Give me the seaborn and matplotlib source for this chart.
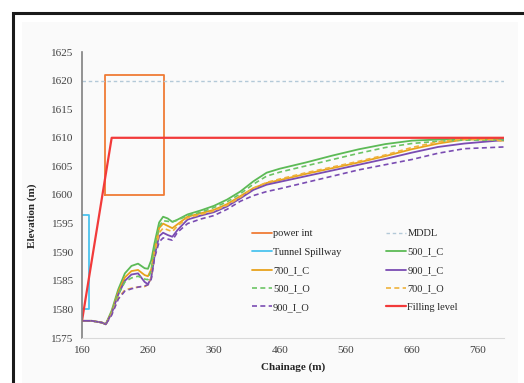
import matplotlib
matplotlib.use("Agg")
import matplotlib.pyplot as plt
from matplotlib.patches import Rectangle
import seaborn as sns

# chainage grid shared by the water-surface profiles
chainage = [160, 175, 190, 196, 205, 215, 225, 235, 245, 255, 260, 265, 270, 277,
            283, 290, 297, 305, 320, 340, 360, 380, 400, 420, 440, 460, 500, 540,
            580, 620, 660, 700, 740, 780, 800]

elev_500_i_c = [1578.0, 1578.0, 1577.7, 1577.4, 1579.8, 1583.5, 1586.3, 1587.6, 1588.0,
                1587.2, 1587.1, 1588.6, 1591.6, 1595.2, 1596.2, 1595.9, 1595.3, 1595.7,
                1596.6, 1597.3, 1598.1, 1599.2, 1600.6, 1602.4, 1603.9, 1604.6, 1605.7,
                1606.9, 1608.0, 1608.9, 1609.5, 1609.7, 1609.8, 1609.8, 1609.8]
elev_700_i_c = [1578.0, 1578.0, 1577.7, 1577.4, 1579.5, 1583.0, 1585.6, 1586.7, 1586.9,
                1586.0, 1585.8, 1587.0, 1590.3, 1594.2, 1595.0, 1594.6, 1594.2, 1594.9,
                1596.2, 1596.8, 1597.4, 1598.4, 1599.8, 1601.2, 1602.1, 1602.6, 1603.7,
                1604.7, 1605.7, 1606.8, 1608.0, 1609.0, 1609.7, 1609.7, 1609.5]
elev_900_i_c = [1578.0, 1578.0, 1577.7, 1577.4, 1579.3, 1582.6, 1585.0, 1586.1, 1586.3,
                1584.8, 1584.4, 1585.5, 1589.3, 1592.8, 1593.4, 1593.0, 1592.7, 1593.9,
                1595.7, 1596.4, 1597.0, 1598.0, 1599.4, 1600.9, 1601.8, 1602.3, 1603.3,
                1604.3, 1605.3, 1606.3, 1607.4, 1608.4, 1609.0, 1609.4, 1609.6]
elev_500_i_o = [1578.0, 1578.0, 1577.7, 1577.4, 1579.4, 1582.6, 1584.8, 1585.5, 1585.8,
                1585.3, 1585.2, 1586.8, 1590.6, 1594.5, 1595.5, 1595.4, 1595.3, 1595.6,
                1596.4, 1597.0, 1597.8, 1598.8, 1600.2, 1601.9, 1603.3, 1604.0, 1605.1,
                1606.2, 1607.3, 1608.3, 1609.0, 1609.4, 1609.6, 1609.6, 1609.6]
elev_700_i_o = [1578.0, 1578.0, 1577.7, 1577.4, 1579.2, 1582.0, 1583.4, 1583.7, 1583.9,
                1584.0, 1584.3, 1585.5, 1589.6, 1593.4, 1594.2, 1593.9, 1593.6, 1594.6,
                1596.0, 1596.6, 1597.2, 1598.2, 1599.6, 1601.2, 1602.2, 1602.8, 1603.9,
                1604.9, 1605.9, 1607.0, 1608.3, 1609.3, 1609.8, 1609.7, 1609.4]
elev_900_i_o = [1578.0, 1578.0, 1577.7, 1577.4, 1579.0, 1581.8, 1583.2, 1583.6, 1583.9,
                1584.1, 1584.3, 1585.3, 1589.0, 1591.8, 1592.5, 1592.3, 1592.1, 1593.5,
                1595.0, 1595.8, 1596.4, 1597.5, 1598.9, 1599.9, 1600.6, 1601.1, 1602.2,
                1603.3, 1604.4, 1605.3, 1606.2, 1607.3, 1608.1, 1608.3, 1608.4]

# structures and reference levels
power_int_x = [195, 195, 284, 284, 195]
power_int_y = [1600, 1621, 1621, 1600, 1600]
spillway_x = [160, 170, 170, 160]
spillway_y = [1596.5, 1596.5, 1580, 1580]
mddl_x = [160, 800]
mddl_y = [1620, 1620]
filling_x = [160, 205, 800]
filling_y = [1578, 1610, 1610]

xticks = [160, 260, 360, 460, 560, 660, 760]
yticks = [1575, 1580, 1585, 1590, 1595, 1600, 1605, 1610, 1615, 1620, 1625]

sns.set_style("white")
plt.rcParams["font.family"] = ["Liberation Serif", "DejaVu Serif"]

fig = plt.figure(figsize=(5.24, 3.83), dpi=100)
W, H = 524, 383
# panel background and outer frame
fig.patches.append(Rectangle((22 / W, 0), (518 - 22) / W, 1 - 22 / H,
                             transform=fig.transFigure, facecolor="#fafafa",
                             edgecolor="none", zorder=-5))
fig.patches.append(Rectangle((13 / W, -0.1), 1.2, 1.1 - 13 / H,
                             transform=fig.transFigure, facecolor="none",
                             edgecolor="#1a1a1a", linewidth=2.2, zorder=-4))

ax = fig.add_axes([82 / W, 1 - 338 / H, (504 - 82) / W, (338 - 52) / H])
ax.set_facecolor("none")
ax.set_zorder(2)

kw = dict(ax=ax, estimator=None, sort=False)
sns.lineplot(x=power_int_x, y=power_int_y, color="#ef7b35", lw=1.3, label="power int", **kw)
sns.lineplot(x=mddl_x, y=mddl_y, color="#b3c9d8", lw=1.0, dashes=(2.5, 2), label="MDDL", **kw)
sns.lineplot(x=spillway_x, y=spillway_y, color="#4cc3ee", lw=1.3, label="Tunnel Spillway", **kw)
sns.lineplot(x=chainage, y=elev_500_i_c, color="#5cba56", lw=1.3, label="500_I_C", **kw)
sns.lineplot(x=chainage, y=elev_700_i_c, color="#e8a21c", lw=1.3, label="700_I_C", **kw)
sns.lineplot(x=chainage, y=elev_900_i_c, color="#7a4cb2", lw=1.3, label="900_I_C", **kw)
sns.lineplot(x=chainage, y=elev_500_i_o, color="#6cc464", lw=1.2, dashes=(3, 2), label="500_I_O", **kw)
sns.lineplot(x=chainage, y=elev_700_i_o, color="#efb23c", lw=1.2, dashes=(3, 2), label="700_I_O", **kw)
sns.lineplot(x=chainage, y=elev_900_i_o, color="#7a4cb2", lw=1.2, dashes=(3, 2), label="900_I_O", **kw)
sns.lineplot(x=filling_x, y=filling_y, color="#f23a3a", lw=1.6, label="Filling level", **kw)

ax.set_xlim(160, 800)
ax.set_ylim(1575, 1625)
ax.set_xticks(xticks)
ax.set_yticks(yticks)
ax.tick_params(length=0, labelsize=8, colors="#404040", pad=6)
for s in ["top", "right"]:
    ax.spines[s].set_visible(False)
ax.spines["left"].set_color("#808080")
ax.spines["left"].set_linewidth(1.2)
ax.spines["bottom"].set_color("#d9d9d9")
ax.spines["bottom"].set_linewidth(0.8)
ax.set_xlabel("Chainage (m)", fontsize=8, fontweight="bold", labelpad=5)
ax.set_ylabel("Elevation (m)", fontsize=8, fontweight="bold")
ax.yaxis.set_label_coords((37 - 82) / (504 - 82), (338 - 216) / (338 - 52))

handles, labels = ax.get_legend_handles_labels()
order = [0, 2, 4, 6, 8, 1, 3, 5, 7, 9]
ax.legend([handles[i] for i in order], [labels[i] for i in order], ncol=2,
          loc="upper left", bbox_to_anchor=((252 - 82) / (504 - 82), (338 - 229) / (338 - 52)),
          frameon=False, fontsize=7.5, handlelength=1.92, handletextpad=0.1,
          labelspacing=0.88, columnspacing=4.3, borderpad=0, borderaxespad=0)

fig.savefig("out.png", dpi=100)
